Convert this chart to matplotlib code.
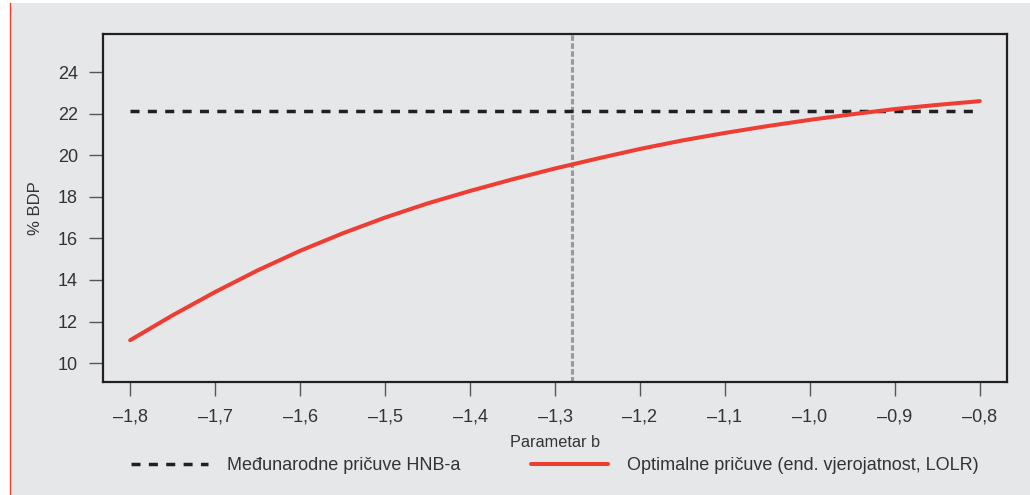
import numpy as np
import matplotlib
matplotlib.use("Agg")
import matplotlib.pyplot as plt
from matplotlib.patches import Rectangle
from matplotlib.lines import Line2D

# Podaci ocitani sa slike
parametar_b = [-1.8, -1.75, -1.7, -1.65, -1.6, -1.55, -1.5, -1.45, -1.4, -1.35, -1.3,
               -1.25, -1.2, -1.15, -1.1, -1.05, -1.0, -0.95, -0.9, -0.85, -0.8]
optimalne = [11.1, 12.3, 13.42, 14.46, 15.4, 16.24, 17.0, 17.68, 18.28, 18.84, 19.36,
             19.84, 20.3, 20.71, 21.07, 21.4, 21.7, 21.97, 22.22, 22.42, 22.6]
hnb_x = [-1.8, -0.8]
hnb_y = [22.14, 22.14]
vertikala_b = -1.28

x_ticks = [-1.8, -1.7, -1.6, -1.5, -1.4, -1.3, -1.2, -1.1, -1.0, -0.9, -0.8]
y_ticks = [10, 12, 14, 16, 18, 20, 22, 24]

pozadina = "#e6e7e8"
crvena = "#ee3d32"
tekst = "#333333"

plt.rcParams["font.family"] = ["Liberation Sans", "DejaVu Sans"]

fig = plt.figure(figsize=(10.3, 4.95), dpi=100)
fig.patch.set_facecolor("white")
# siva pozadina i crvena linija lijevo
fig.patches.append(Rectangle((10 / 1030, 0), 1 - 10 / 1030, 1 - 3 / 495,
                             transform=fig.transFigure, facecolor=pozadina,
                             edgecolor="none", zorder=-10))
fig.lines.append(Line2D([10 / 1030, 10 / 1030], [0, 1 - 3 / 495], transform=fig.transFigure,
                        color=crvena, linewidth=1.0))

ax = fig.add_axes([103 / 1030, 113 / 495, 904 / 1030, 348 / 495])
ax.set_facecolor(pozadina)

ax.axvline(vertikala_b, color="#999999", linewidth=2.2, dashes=(1.8, 0.8), zorder=1)
ax.plot(hnb_x, hnb_y, color="#231f20", linewidth=2.5, dashes=(2.6, 2.4),
        label="Međunarodne pričuve HNB-a", zorder=2)
ax.plot(parametar_b, optimalne, color=crvena, linewidth=2.9,
        solid_capstyle="round", solid_joinstyle="round",
        label="Optimalne pričuve (end. vjerojatnost, LOLR)", zorder=3)

ax.set_xlim(-1.832, -0.768)
ax.set_ylim(9.09, 25.83)
ax.set_xticks(x_ticks)
ax.set_xticklabels([("%.1f" % v).replace("-", "\u2013").replace(".", ",") for v in x_ticks])
ax.set_yticks(y_ticks)
ax.set_yticklabels([str(v) for v in y_ticks])

ax.tick_params(axis="both", direction="out", length=10, width=1.0, color="#555555",
               labelsize=13, labelcolor=tekst, top=False, right=False)
ax.tick_params(axis="y", pad=8)
ax.tick_params(axis="x", pad=9)

for s in ax.spines.values():
    s.set_color("#231f20")
    s.set_linewidth(1.6)

ax.set_xlabel("Parametar b", fontsize=11.7, color=tekst, labelpad=7)
ax.set_ylabel("% BDP", fontsize=12, color=tekst, labelpad=11)

leg = fig.legend(loc="center left", bbox_to_anchor=(115 / 1030, 1 - 466 / 495), ncol=2,
                 frameon=False, fontsize=13, handlelength=4.26, handletextpad=1.05,
                 columnspacing=3.9, labelcolor=tekst)

fig.savefig("out.png", dpi=100, facecolor=fig.get_facecolor())
